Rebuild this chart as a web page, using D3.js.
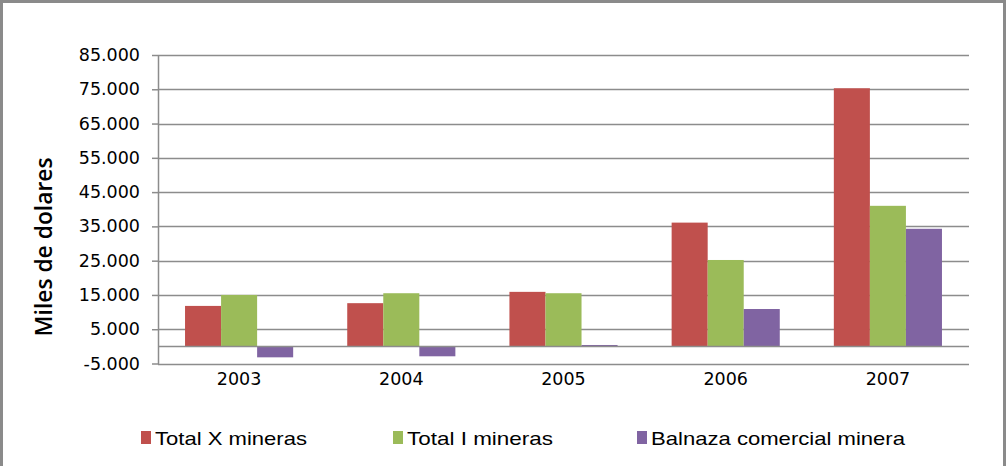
<!DOCTYPE html>
<html>
<head>
<meta charset="utf-8">
<script src="https://cdn.jsdelivr.net/npm/d3@7"></script>
<style>
  body { margin: 0; background: #fff; }
  svg { display: block; }
</style>
</head>
<body>
<script>
// data
const years = ["2003", "2004", "2005", "2006", "2007"];
const seriesNames = ["Total X mineras", "Total I mineras", "Balnaza comercial minera"];
const totalX = [11800, 12600, 15900, 36100, 75300];
const totalI = [15000, 15500, 15500, 25200, 41000];
const balanza = [-3200, -2900, 400, 10900, 34300];
const yTicks = [-5000, 5000, 15000, 25000, 35000, 45000, 55000, 65000, 75000, 85000];
const colors = ["#C0504D", "#9BBB59", "#8064A2"];

const width = 1007, height = 466;
const plot = {left: 158, right: 969, top: 55, bottom: 363.5};

const rows = years.map((y, i) => ({year: y, values: [totalX[i], totalI[i], balanza[i]]}));

const loc = d3.formatLocale({decimal: ",", thousands: ".", grouping: [3], currency: ["", ""], minus: "-"});
const fmt = loc.format(",d");

const svg = d3.select("body").append("svg")
    .attr("width", width)
    .attr("height", height);

svg.append("rect")
    .attr("x", 1.5).attr("y", 1.5)
    .attr("width", width - 4).attr("height", height + 10)
    .attr("fill", "#fff")
    .attr("stroke", "#8a8a8a")
    .attr("stroke-width", 3);

const y = d3.scaleLinear()
    .domain([-5000, 85000])
    .range([plot.bottom, plot.top]);

const x0 = d3.scaleBand()
    .domain(years)
    .range([plot.left, plot.right])
    .padding(0);

const x1 = d3.scaleBand()
    .domain(d3.range(seriesNames.length))
    .range([0, x0.bandwidth()])
    .paddingInner(0)
    .paddingOuter(0.75);

// gridlines
svg.append("g")
    .selectAll("line")
    .data(yTicks)
    .join("line")
    .attr("x1", plot.left).attr("x2", plot.right)
    .attr("y1", d => Math.round(y(d)) + 0.5)
    .attr("y2", d => Math.round(y(d)) + 0.5)
    .attr("stroke", "#8c8c8c")
    .attr("stroke-width", 1.5);

// bars
svg.append("g")
  .selectAll("g")
  .data(rows)
  .join("g")
    .attr("transform", d => "translate(" + x0(d.year) + ",0)")
  .selectAll("rect")
  .data(d => d.values.map((v, k) => ({k: k, v: v})))
  .join("rect")
    .attr("x", d => x1(d.k))
    .attr("width", x1.bandwidth())
    .attr("y", d => y(Math.max(0, d.v)))
    .attr("height", d => Math.abs(y(d.v) - y(0)))
    .attr("fill", d => colors[d.k]);

// zero line (category axis)
svg.append("line")
    .attr("x1", plot.left).attr("x2", plot.right)
    .attr("y1", Math.round(y(0)) + 0.5).attr("y2", Math.round(y(0)) + 0.5)
    .attr("stroke", "#8c8c8c")
    .attr("stroke-width", 1.5);

// y axis
const yAxis = svg.append("g")
    .attr("transform", "translate(" + plot.left + ",0)")
    .call(d3.axisLeft(y).tickValues(yTicks).tickFormat(fmt).tickSize(6).tickPadding(12).tickSizeOuter(0));
yAxis.select(".domain").attr("stroke", "#8c8c8c").attr("stroke-width", 1.5);
yAxis.selectAll(".tick line").attr("stroke", "#8c8c8c").attr("stroke-width", 1.5);
yAxis.selectAll(".tick text")
    .attr("fill", "#000")
    .style("font-family", "DejaVu Sans")
    .style("font-size", "17.5px");

// x labels
svg.append("g")
  .selectAll("text")
  .data(years)
  .join("text")
    .attr("x", d => x0(d) + x0.bandwidth() / 2)
    .attr("y", 385)
    .attr("text-anchor", "middle")
    .style("font-family", "DejaVu Sans")
    .style("font-size", "17.5px")
    .text(d => d);

// y title
svg.append("text")
    .attr("transform", "translate(52,247) rotate(-90)")
    .attr("text-anchor", "middle")
    .attr("textLength", 179)
    .attr("lengthAdjust", "spacingAndGlyphs")
    .style("font-family", "Open Sans")
    .style("font-weight", "600")
    .style("font-size", "24px")
    .text("Miles de dolares");

// legend
const legendX = [141, 393, 637];
const legendW = [152, 146, 254];
const legend = svg.append("g")
  .selectAll("g")
  .data(seriesNames)
  .join("g")
    .attr("transform", (d, i) => "translate(" + legendX[i] + ",0)");
legend.append("rect")
    .attr("x", 0).attr("y", 431)
    .attr("width", 10).attr("height", 13)
    .attr("fill", (d, i) => colors[i]);
legend.append("text")
    .attr("x", 14).attr("y", 445)
    .attr("textLength", (d, i) => legendW[i])
    .attr("lengthAdjust", "spacingAndGlyphs")
    .style("font-family", "Liberation Sans")
    .style("font-size", "19px")
    .text(d => d);
</script>
</body>
</html>
